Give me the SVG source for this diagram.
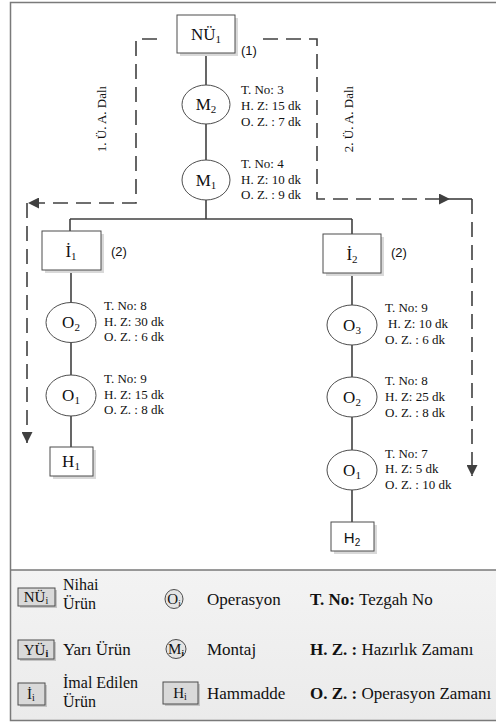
<svg xmlns="http://www.w3.org/2000/svg" width="496" height="724" viewBox="0 0 496 724">
<defs>
<style>
.box{fill:#fff;stroke:#4d4d4d;stroke-width:1}
.shadow{fill:#d9d9d9;stroke:none}
.ell{fill:#fff;stroke:#4d4d4d;stroke-width:1}
.conn{fill:none;stroke:#404040;stroke-width:1.6}
.dash{fill:none;stroke:#404040;stroke-width:1.6;stroke-dasharray:15 8}
.lbl{font-family:"Liberation Serif",serif;font-size:17px;fill:#111;text-anchor:middle}
.info{font-family:"Liberation Serif",serif;font-size:13px;fill:#111}
.num{font-family:"Liberation Sans",sans-serif;font-size:13px;fill:#111}
.leg{font-family:"Liberation Serif",serif;font-size:17px;fill:#111}
.leg2{font-family:"Liberation Serif",serif;font-size:16px;fill:#111}
.legb{font-family:"Liberation Serif",serif;font-size:15px;fill:#111;text-anchor:middle}
.lbox{fill:#d9d9d9;stroke:#4d4d4d;stroke-width:1}
.lshadow{fill:#c4c4c4;stroke:none}
</style>
<marker id="arrB" viewBox="0 0 10 10" refX="10" refY="5" markerWidth="11" markerHeight="11" markerUnits="userSpaceOnUse" orient="auto">
<path d="M0,0 L10,5 L0,10 z" fill="#404040"/>
</marker>
<linearGradient id="lg" x1="0" y1="0" x2="0" y2="1">
<stop offset="0" stop-color="#f3f3f3"/>
<stop offset="1" stop-color="#ebebeb"/>
</linearGradient>
</defs>

<rect x="0" y="0" width="496" height="724" fill="#fff"/>
<rect id="legend-bg" x="10.5" y="570" width="490" height="150.5" fill="url(#lg)"/>
<path d="M497,2.5 H10.5 V720.5 H497 M10.5,570 H497" fill="none" stroke="#7a7a7a" stroke-width="1.5"/>

<g id="connectors">
<path class="conn" d="M206,53 V85"/>
<path class="conn" d="M206,124 V160"/>
<path class="conn" d="M206,200 V219"/>
<path class="conn" d="M70,219 H352"/>
<path class="conn" d="M70,219 V231"/>
<path class="conn" d="M352,219 V234"/>
<path class="conn" d="M71,270 V302"/>
<path class="conn" d="M71,343 V375"/>
<path class="conn" d="M71,416 V447"/>
<path class="conn" d="M352,273 V305"/>
<path class="conn" d="M352,345 V377"/>
<path class="conn" d="M352,417 V450"/>
<path class="conn" d="M352,490 V522"/>
<path class="dash" d="M157,39 H136 V203 H28" marker-end="url(#arrB)"/>
<path class="dash" d="M27,203 V443" marker-end="url(#arrB)"/>
<path class="dash" d="M263,39 H317 V199 H450" marker-end="url(#arrB)"/>
<path class="conn" d="M450,199 H472"/>
<path class="dash" d="M472,199 V476" marker-end="url(#arrB)"/>
<text class="info" transform="translate(106,119) rotate(-90)" text-anchor="middle" font-size="14">1. Ü. A. Dalı</text>
<text class="info" transform="translate(353,119) rotate(-90)" text-anchor="middle" font-size="14">2. Ü. A. Dalı</text>
</g>

<g id="NU1">
<rect class="shadow" x="180" y="18" width="58" height="38"/>
<rect class="box" x="177" y="15" width="58" height="38"/>
<text class="lbl" x="206" y="40">NÜ<tspan font-size="11" dy="3">1</tspan></text>
<text class="num" x="241" y="55">(1)</text>
</g>

<g id="M2">
<ellipse class="ell" cx="206" cy="104.5" rx="24" ry="19.5"/>
<text class="lbl" x="206" y="110">M<tspan font-size="11" dy="3">2</tspan></text>
<text class="info" x="241" y="94">T. No: 3</text>
<text class="info" x="241" y="110">H. Z: 15 dk</text>
<text class="info" x="241" y="126">O. Z. : 7 dk</text>
</g>

<g id="M1">
<ellipse class="ell" cx="206" cy="180" rx="24" ry="20"/>
<text class="lbl" x="206" y="186">M<tspan font-size="11" dy="3">1</tspan></text>
<text class="info" x="241" y="168">T. No: 4</text>
<text class="info" x="241" y="184">H. Z: 10 dk</text>
<text class="info" x="241" y="199">O. Z. : 9 dk</text>
</g>

<g id="I1">
<rect class="shadow" x="45" y="234" width="59" height="39"/>
<rect class="box" x="42" y="231" width="59" height="39"/>
<text class="lbl" x="71" y="257">İ<tspan font-size="11" dy="3">1</tspan></text>
<text class="num" x="111" y="256">(2)</text>
</g>

<g id="O2-left">
<ellipse class="ell" cx="71" cy="322.5" rx="25" ry="20"/>
<text class="lbl" x="71" y="328">O<tspan font-size="11" dy="3">2</tspan></text>
<text class="info" x="104" y="310">T. No: 8</text>
<text class="info" x="104" y="326">H. Z: 30 dk</text>
<text class="info" x="104" y="341">O. Z. : 6 dk</text>
</g>

<g id="O1-left">
<ellipse class="ell" cx="71" cy="395.5" rx="25" ry="20.5"/>
<text class="lbl" x="71" y="401">O<tspan font-size="11" dy="3">1</tspan></text>
<text class="info" x="104" y="383">T. No: 9</text>
<text class="info" x="104" y="399">H. Z: 15 dk</text>
<text class="info" x="104" y="414">O. Z. : 8 dk</text>
</g>

<g id="H1">
<rect class="shadow" x="53" y="450" width="43" height="29"/>
<rect class="box" x="50" y="447" width="43" height="29"/>
<text class="lbl" x="71" y="467">H<tspan font-size="11" dy="3">1</tspan></text>
</g>

<g id="I2">
<rect class="shadow" x="326" y="237" width="58" height="39"/>
<rect class="box" x="323" y="234" width="58" height="39"/>
<text class="lbl" x="352" y="260">İ<tspan font-size="11" dy="3">2</tspan></text>
<text class="num" x="391" y="257">(2)</text>
</g>

<g id="O3-right">
<ellipse class="ell" cx="352" cy="325" rx="25" ry="20"/>
<text class="lbl" x="352" y="331">O<tspan font-size="11" dy="3">3</tspan></text>
<text class="info" x="385" y="312">T. No: 9</text>
<text class="info" x="388" y="328">H. Z: 10 dk</text>
<text class="info" x="385" y="344">O. Z. : 6 dk</text>
</g>

<g id="O2-right">
<ellipse class="ell" cx="352" cy="397" rx="25" ry="20"/>
<text class="lbl" x="352" y="403">O<tspan font-size="11" dy="3">2</tspan></text>
<text class="info" x="385" y="385">T. No: 8</text>
<text class="info" x="385" y="401">H. Z: 25 dk</text>
<text class="info" x="385" y="417">O. Z. : 8 dk</text>
</g>

<g id="O1-right">
<ellipse class="ell" cx="352" cy="470" rx="25" ry="20"/>
<text class="lbl" x="352" y="476">O<tspan font-size="11" dy="3">1</tspan></text>
<text class="info" x="385" y="458">T. No: 7</text>
<text class="info" x="385" y="473">H. Z: 5 dk</text>
<text class="info" x="385" y="489">O. Z. : 10 dk</text>
</g>

<g id="H2">
<rect class="shadow" x="334" y="525" width="43" height="29"/>
<rect class="box" x="331" y="522" width="43" height="29"/>
<text x="352" y="543" font-family="Liberation Sans, sans-serif" font-size="15" fill="#111" text-anchor="middle">H<tspan font-size="10" dy="3">2</tspan></text>
</g>

<g id="legend">
<rect class="lshadow" x="20" y="590" width="37" height="18"/>
<rect class="lbox" x="18" y="588" width="37" height="18"/>
<text class="legb" x="36" y="602">NÜ<tspan font-size="10" dy="2">i</tspan></text>
<text class="leg2" x="63" y="590">Nihai</text>
<text class="leg2" x="63" y="609">Ürün</text>
<ellipse cx="174" cy="599" rx="9" ry="9.5" fill="#e4e4e4" stroke="#4d4d4d" stroke-width="1"/>
<text class="legb" x="174" y="604">O<tspan font-size="9" dy="2">i</tspan></text>
<text class="leg" x="207" y="605">Operasyon</text>
<text class="leg" x="310" y="605"><tspan font-weight="bold">T. No:</tspan> Tezgah No</text>

<rect class="lshadow" x="20" y="642" width="36" height="19"/>
<rect class="lbox" x="18" y="640" width="36" height="19"/>
<text class="legb" x="36" y="655">YÜ<tspan font-size="10" dy="2" font-weight="bold">i</tspan></text>
<text class="leg" x="63" y="655">Yarı Ürün</text>
<ellipse cx="176" cy="649" rx="10" ry="9.5" fill="#e4e4e4" stroke="#4d4d4d" stroke-width="1"/>
<text class="legb" x="176" y="654">M<tspan font-size="9" dy="2" font-weight="bold">i</tspan></text>
<text class="leg" x="207" y="655">Montaj</text>
<text class="leg" x="310" y="655"><tspan font-weight="bold">H. Z. :</tspan> Hazırlık Zamanı</text>

<rect class="lshadow" x="20" y="685" width="27" height="22"/>
<rect class="lbox" x="18" y="683" width="27" height="22"/>
<text class="legb" x="31" y="699">İ<tspan font-size="10" dy="2">i</tspan></text>
<text class="leg2" x="63" y="688">İmal Edilen</text>
<text class="leg2" x="63" y="707">Ürün</text>
<rect class="lshadow" x="165" y="684" width="35" height="22"/>
<rect class="lbox" x="163" y="682" width="35" height="22"/>
<text class="legb" x="180" y="698">H<tspan font-size="10" dy="2">i</tspan></text>
<text class="leg" x="207" y="699">Hammadde</text>
<text class="leg" x="310" y="699"><tspan font-weight="bold">O. Z. :</tspan> Operasyon Zamanı</text>
</g>
</svg>
